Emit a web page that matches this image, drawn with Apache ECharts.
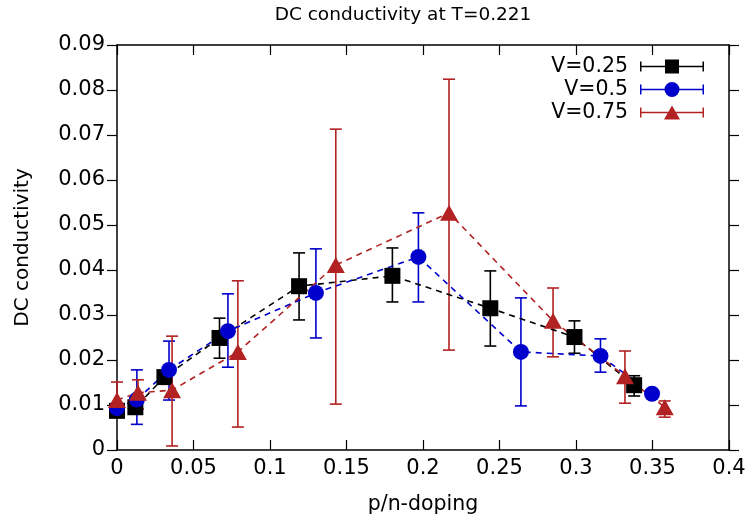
<!DOCTYPE html>
<html>
<head>
<meta charset="utf-8">
<script src="https://cdn.jsdelivr.net/npm/echarts@6/dist/echarts.min.js"></script>
<style>
  html, body { margin: 0; padding: 0; background: #fff; }
  #chart { width: 749px; height: 521px; }
</style>
</head>
<body>
<div id="chart"></div>
<script>
const names = ['V=0.25', 'V=0.5', 'V=0.75']
const colors = ['#000000', '#0000cc', '#b22222']
const symbols = ['rect', 'circle', 'triangle']

// doping (x) per series
const x025 = [0, 0.012, 0.031, 0.067, 0.119, 0.180, 0.244, 0.299, 0.338]
const x05 = [0, 0.013, 0.034, 0.0725, 0.130, 0.197, 0.264, 0.316, 0.3497]
const x075 = [0, 0.0137, 0.036, 0.079, 0.143, 0.217, 0.285, 0.332, 0.358]

// conductivity values
const y025 = [0.0087, 0.0095, 0.0162, 0.0249, 0.0364, 0.0387, 0.0315, 0.0251, 0.0144]
const y05 = [0.0093, 0.0112, 0.0178, 0.0264, 0.0349, 0.0429, 0.0218, 0.0209, 0.0125]
const y075 = [0.0111, 0.0127, 0.0133, 0.0218, 0.0411, 0.0527, 0.0287, 0.0164, 0.0095]

// error bar low / high
const lo025 = [0.0082, 0.0089, 0.0152, 0.0204, 0.0289, 0.0329, 0.0231, 0.0215, 0.0120]
const hi025 = [0.0092, 0.0101, 0.0172, 0.0293, 0.0438, 0.0449, 0.0398, 0.0287, 0.0165]
const lo05 = [0.0085, 0.0057, 0.0111, 0.0184, 0.0249, 0.0329, 0.0098, 0.0173, 0.0118]
const hi05 = [0.0101, 0.0178, 0.0242, 0.0347, 0.0447, 0.0527, 0.0338, 0.0247, 0.0132]
const lo075 = [0.0075, 0.0091, 0.0009, 0.0051, 0.0102, 0.0222, 0.0207, 0.0104, 0.0073]
const hi075 = [0.0151, 0.0156, 0.0253, 0.0376, 0.0713, 0.0824, 0.0360, 0.0220, 0.0109]

const xs = [x025, x05, x075]
const ys = [y025, y05, y075]
const los = [lo025, lo05, lo075]
const his = [hi025, hi05, hi075]

const font = 'DejaVu Sans'

// legend icons: error bar with marker in the middle (gnuplot style)
const bar = 'M0,7.3h64v1.4h-64zM0,3h1.5v10h-1.5zM62.5,3h1.5v10h-1.5z'
const icons = [
  'path://' + bar + 'M25,1h14v14h-14z',
  'path://' + bar + 'M39.5,8A7.5,7.5 0 1 1 24.5,8A7.5,7.5 0 1 1 39.5,8z',
  'path://' + bar + 'M32,1L40,15L24,15z'
]

const errSeries = (i) => ({
  name: names[i],
  type: 'custom',
  data: xs[i].map((x, k) => [x, los[i][k], his[i][k]]),
  encode: { x: 0, y: [1, 2] },
  itemStyle: { color: colors[i] },
  renderItem: (params, api) => {
    const x = api.value(0)
    const top = api.coord([x, api.value(2)])
    const bot = api.coord([x, api.value(1)])
    const w = 6
    const st = { stroke: colors[i], lineWidth: 1.6 }
    return {
      type: 'group',
      children: [
        { type: 'line', shape: { x1: top[0], y1: top[1], x2: bot[0], y2: bot[1] }, style: st },
        { type: 'line', shape: { x1: top[0] - w, y1: top[1], x2: top[0] + w, y2: top[1] }, style: st },
        { type: 'line', shape: { x1: bot[0] - w, y1: bot[1], x2: bot[0] + w, y2: bot[1] }, style: st }
      ]
    }
  }
})

const lineSeries = (i) => ({
  name: names[i],
  type: 'line',
  data: xs[i].map((x, k) => [x, ys[i][k]]),
  symbol: symbols[i],
  symbolSize: i === 2 ? [18, 16] : 16,
  showSymbol: true,
  color: colors[i],
  itemStyle: { color: colors[i], borderWidth: 0 },
  lineStyle: { color: colors[i], width: 1.6, type: [6, 5] },
  animation: false
})

const series = []
for (let i = 0; i < 3; i++) {
  series.push(errSeries(i))
  series.push(lineSeries(i))
}

const axisLine = () => ({ show: true, onZero: false, lineStyle: { color: '#000', width: 1.5 } })
const axisTick = (inside) => ({ show: true, inside, length: 10, lineStyle: { color: '#000', width: 1.2 } })

const chart = echarts.init(document.getElementById('chart'))
chart.setOption({
  animation: false,
  backgroundColor: '#ffffff',
  textStyle: { fontFamily: font },
  title: {
    text: 'DC conductivity at T=0.221',
    left: 398,
    textAlign: 'center',
    top: 1,
    textStyle: { fontFamily: font, fontSize: 18.5, fontWeight: 'normal', color: '#000' }
  },
  legend: {
    orient: 'vertical',
    right: 40,
    top: 51,
    align: 'right',
    itemWidth: 64,
    itemHeight: 16,
    itemGap: 2,
    selectedMode: false,
    itemStyle: { borderWidth: 0 },
    textStyle: { fontFamily: font, fontSize: 20.5, color: '#000', padding: [0, 7, 0, 0] },
    data: names.map((n, i) => ({ name: n, icon: icons[i] }))
  },
  grid: { left: 117, right: 20, top: 45, bottom: 71 },
  xAxis: [
    {
      type: 'value', min: 0, max: 0.4, interval: 0.05, position: 'bottom',
      name: 'p/n-doping', nameLocation: 'middle', nameGap: 44,
      nameTextStyle: { fontFamily: font, fontSize: 20.5, color: '#000' },
      axisLine: axisLine(), axisTick: axisTick(true),
      axisLabel: { fontFamily: font, fontSize: 21, color: '#000', margin: 8 },
      splitLine: { show: false }
    },
    {
      type: 'value', min: 0, max: 0.4, interval: 0.05, position: 'top',
      axisLine: axisLine(), axisTick: axisTick(true),
      axisLabel: { show: false },
      splitLine: { show: false }
    }
  ],
  yAxis: [
    {
      type: 'value', min: 0, max: 0.09, interval: 0.01, position: 'left',
      name: 'DC conductivity', nameLocation: 'middle', nameGap: 84,
      nameTextStyle: { fontFamily: font, fontSize: 20, color: '#000' },
      axisLine: axisLine(), axisTick: axisTick(false),
      axisLabel: { fontFamily: font, fontSize: 21, color: '#000', margin: 12 },
      splitLine: { show: false }
    },
    {
      type: 'value', min: 0, max: 0.09, interval: 0.01, position: 'right',
      axisLine: axisLine(), axisTick: axisTick(false),
      axisLabel: { show: false },
      splitLine: { show: false }
    }
  ],
  series
})
</script>
</body>
</html>
